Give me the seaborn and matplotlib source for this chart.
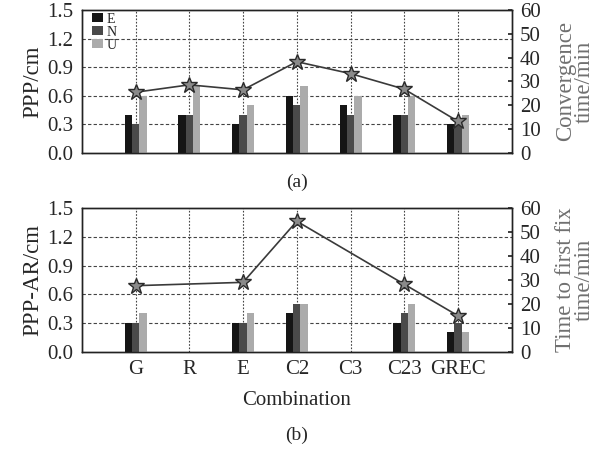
import numpy as np
import pandas as pd
import matplotlib
matplotlib.use("Agg")
import matplotlib.pyplot as plt
import seaborn as sns

sns.set_theme(style="white")
plt.rcParams["font.family"] = ["Liberation Serif", "DejaVu Serif"]

combos = ["G", "R", "E", "C2", "C3", "C23", "GREC"]
components = ["E", "N", "U"]

# PPP float solution accuracy (cm)
ppp_e = [0.4, 0.4, 0.3, 0.6, 0.5, 0.4, 0.3]
ppp_n = [0.3, 0.4, 0.4, 0.5, 0.4, 0.4, 0.3]
ppp_u = [0.6, 0.7, 0.5, 0.7, 0.6, 0.6, 0.4]
conv_time = [25.5, 28.6, 26.5, 38.3, 33.3, 26.8, 13.3]

# PPP-AR fixed solution accuracy (cm); R and C3 have no fixed solution
ar_e = [0.3, np.nan, 0.3, 0.4, np.nan, 0.3, 0.2]
ar_n = [0.3, np.nan, 0.3, 0.5, np.nan, 0.4, 0.3]
ar_u = [0.4, np.nan, 0.4, 0.5, np.nan, 0.5, 0.2]
ttff = [27.6, np.nan, 29.0, 54.6, np.nan, 28.2, 15.0]

palette = {"E": "#151515", "N": "#4a4a4a", "U": "#ababab"}
FS = 15
LFS = 16.5
grid_kw = dict(color="#444444", linestyle=(0, (3, 2)), linewidth=0.8)


def long_frame(e, n, u):
    rows = []
    for comp, vals in zip(components, (e, n, u)):
        for c, v in zip(combos, vals):
            rows.append({"combo": c, "comp": comp, "value": v})
    return pd.DataFrame(rows)


def draw_panel(ax, e, n, u, times, ylabel, rlabel, show_legend, show_xticks):
    df = long_frame(e, n, u)
    sns.barplot(data=df, x="combo", y="value", hue="comp", order=combos,
                hue_order=components, palette=palette, width=0.41,
                saturation=1, linewidth=0, ax=ax, legend=show_legend,
                zorder=3)
    ax.set_xlim(-1, len(combos))
    ax.set_ylim(0, 1.5)
    ticks = np.arange(0, 1.51, 0.3)
    ax.set_yticks(ticks)
    ax.set_yticklabels([f"{v:.1f}" for v in ticks], fontsize=FS)
    for y in np.arange(0.3, 1.5, 0.3):
        ax.axhline(y, zorder=1, **grid_kw)
    for x in range(len(combos)):
        ax.axvline(x, zorder=1, color="#444444", linestyle=(0, (1.5, 1.5)),
                   linewidth=0.8)
    ax.set_ylabel(ylabel, fontsize=LFS, labelpad=3)
    ax.set_xlabel("")
    ax.set_xticks(range(len(combos)))
    if show_xticks:
        ax.set_xticklabels(combos, fontsize=FS)
    else:
        ax.set_xticklabels([])
    ax.tick_params(axis="both", length=0, pad=6)
    for s in ax.spines.values():
        s.set_color("#222222")
        s.set_linewidth(1.0)

    if show_legend:
        ax.legend(loc="upper left", frameon=False, fontsize=10,
                  handlelength=0.8, handleheight=0.55, handletextpad=0.3,
                  labelspacing=0.0, borderaxespad=0.0,
                  bbox_to_anchor=(0.01, 1.02))

    ax2 = ax.twinx()
    pos = np.arange(len(combos))
    t = np.array(times, dtype=float)
    mask = ~np.isnan(t)
    sns.lineplot(x=pos[mask], y=t[mask], ax=ax2, color="#3a3a3a",
                 linewidth=1.2, marker="*", markersize=12,
                 markerfacecolor="#8a8a8a", markeredgecolor="#2a2a2a",
                 markeredgewidth=1.0, zorder=5)
    ax2.set_ylim(0, 60)
    ax2.set_yticks(range(0, 61, 10))
    ax2.set_yticklabels([str(v) for v in range(0, 61, 10)], fontsize=FS)
    ax2.tick_params(axis="y", direction="in", length=3, pad=6)
    ax2.set_ylabel(rlabel, fontsize=LFS, color="#707070", labelpad=10,
                   linespacing=0.85)
    ax2.set_xlim(-1, len(combos))
    for s in ax2.spines.values():
        s.set_color("#222222")
        s.set_linewidth(1.0)
    return ax2


fig = plt.figure(figsize=(6.02, 4.49), dpi=100)
ax_a = fig.add_axes([0.136, 0.659, 0.714, 0.319])
ax_b = fig.add_axes([0.136, 0.217, 0.714, 0.319])

draw_panel(ax_a, ppp_e, ppp_n, ppp_u, conv_time, "PPP/cm",
           "Convergence\ntime/min", True, False)
draw_panel(ax_b, ar_e, ar_n, ar_u, ttff, "PPP-AR/cm",
           "Time to first fix\ntime/min", False, True)

ax_b.set_xlabel("Combination", fontsize=FS, labelpad=9)
fig.text(0.493, 0.595, "(a)", ha="center", va="center", fontsize=FS - 1)
fig.text(0.493, 0.031, "(b)", ha="center", va="center", fontsize=FS - 1)

fig.savefig("out.png", dpi=100)
